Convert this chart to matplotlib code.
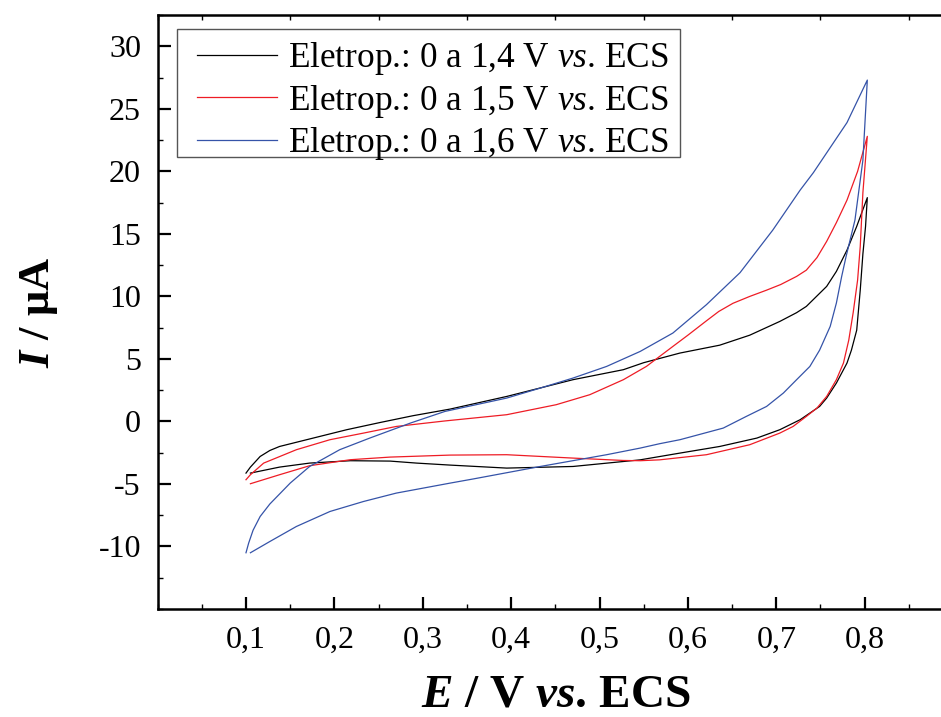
import matplotlib
matplotlib.use("Agg")
import matplotlib.pyplot as plt
from matplotlib.ticker import MultipleLocator, FixedLocator
from matplotlib.patches import Rectangle

plt.rcParams['font.family'] = 'Liberation Serif'
plt.rcParams['mathtext.fontset'] = 'custom'
plt.rcParams['mathtext.rm'] = 'Liberation Serif'
plt.rcParams['mathtext.it'] = 'Liberation Serif:italic'
plt.rcParams['mathtext.bf'] = 'Liberation Serif:bold'
plt.rcParams['mathtext.bfit'] = 'Liberation Serif:italic:bold'
plt.rcParams['axes.unicode_minus'] = False

# Eletropolimerizacao 0 a 1,4 V (ida e volta)
e14_x = [0.100, 0.105, 0.116, 0.127, 0.138, 0.176, 0.214, 0.252, 0.289, 0.331, 0.395, 0.470,
         0.527, 0.550, 0.591, 0.636, 0.670, 0.704, 0.723, 0.734, 0.757, 0.768, 0.780, 0.791,
         0.803,
         0.801, 0.798, 0.795, 0.791, 0.785, 0.780, 0.768, 0.757, 0.749, 0.738, 0.727, 0.704,
         0.678, 0.636, 0.591, 0.546, 0.470, 0.395, 0.331, 0.293, 0.263, 0.218, 0.172, 0.138,
         0.105]
e14_y = [-4.13, -3.65, -2.80, -2.32, -2.00, -1.33, -0.66, -0.08, 0.46, 0.99, 2.00, 3.34,
         4.14, 4.70, 5.47, 6.10, 6.90, 8.00, 8.70, 9.20, 10.80, 12.00, 13.70, 15.60,
         17.90,
         15.60, 13.40, 10.50, 7.30, 5.70, 4.67, 3.07, 1.87, 1.20, 0.67, 0.14, -0.66,
         -1.33, -2.00, -2.53, -3.07, -3.60, -3.73, -3.49, -3.33, -3.17, -3.14, -3.33, -3.65,
         -4.13]

# Eletropolimerizacao 0 a 1,5 V
e15_x = [0.100, 0.105, 0.120, 0.157, 0.195, 0.233, 0.270, 0.325, 0.395, 0.451, 0.489, 0.527,
         0.553, 0.583, 0.600, 0.621, 0.635, 0.651, 0.670, 0.689, 0.705, 0.723, 0.734, 0.746,
         0.757, 0.768, 0.780, 0.792, 0.803,
         0.798, 0.795, 0.792, 0.787, 0.782, 0.776, 0.768, 0.757, 0.746, 0.734, 0.719, 0.704,
         0.670, 0.621, 0.568, 0.546, 0.527, 0.470, 0.395, 0.331, 0.263, 0.218, 0.172, 0.138,
         0.105]
e15_y = [-4.66, -4.26, -3.33, -2.26, -1.46, -0.93, -0.40, 0.04, 0.54, 1.34, 2.14, 3.34,
         4.40, 6.00, 6.90, 8.05, 8.80, 9.45, 10.00, 10.50, 10.95, 11.60, 12.10, 13.10,
         14.40, 15.90, 17.70, 20.00, 22.80,
         18.30, 14.00, 11.30, 8.70, 6.50, 4.67, 3.34, 2.00, 1.07, 0.40, -0.40, -0.93,
         -1.86, -2.66, -3.07, -3.14, -3.12, -2.93, -2.66, -2.69, -2.85, -3.06, -3.54, -4.26,
         -4.98]

# Eletropolimerizacao 0 a 1,6 V
e16_x = [0.100, 0.103, 0.108, 0.116, 0.127, 0.150, 0.172, 0.206, 0.240, 0.286, 0.325, 0.395,
         0.433, 0.470, 0.508, 0.546, 0.583, 0.621, 0.659, 0.696, 0.727, 0.742, 0.780, 0.803,
         0.798, 0.789, 0.779, 0.774, 0.768, 0.761, 0.749, 0.738, 0.723, 0.708, 0.689, 0.666,
         0.640, 0.591, 0.568, 0.546, 0.508, 0.433, 0.357, 0.331, 0.270, 0.233, 0.195, 0.157,
         0.127, 0.105]
e16_y = [-10.50, -9.73, -8.70, -7.60, -6.60, -4.93, -3.60, -2.26, -1.33, -0.13, 0.80, 1.87,
         2.67, 3.47, 4.40, 5.60, 7.07, 9.34, 11.90, 15.30, 18.50, 19.90, 23.90, 27.30,
         20.90, 16.10, 13.20, 11.60, 9.47, 7.60, 5.70, 4.40, 3.34, 2.27, 1.20, 0.40,
         -0.53, -1.46, -1.78, -2.13, -2.66, -3.60, -4.60, -4.93, -5.73, -6.40, -7.20, -8.40,
         -9.60, -10.50]

labels = [r'Eletrop.: 0 a 1,4 V $\mathit{vs}$. ECS',
          r'Eletrop.: 0 a 1,5 V $\mathit{vs}$. ECS',
          r'Eletrop.: 0 a 1,6 V $\mathit{vs}$. ECS']
colors = ['black', '#ee1c25', '#3553a8']
x_ticks = [0.1, 0.2, 0.3, 0.4, 0.5, 0.6, 0.7, 0.8]
x_ticklabels = ['0,1', '0,2', '0,3', '0,4', '0,5', '0,6', '0,7', '0,8']
y_ticks = [-10, -5, 0, 5, 10, 15, 20, 25, 30]

W, H = 941, 717
fig = plt.figure(figsize=(W / 100, H / 100), dpi=100)
# the axes run a bit past the right border, like in the original
ax = fig.add_axes([0.1675, 0.1506, 1.0128 - 0.1675, 0.979 - 0.1506])

for xs, ys, lab, c in zip([e14_x, e15_x, e16_x], [e14_y, e15_y, e16_y], labels, colors):
    ax.plot(xs, ys, color=c, lw=0.9, label=lab)

ax.set_xlim(0, 0.9)
ax.set_ylim(-15, 32.5)
ax.xaxis.set_major_locator(FixedLocator(x_ticks))
ax.set_xticklabels(x_ticklabels)
ax.xaxis.set_minor_locator(MultipleLocator(0.05))
ax.yaxis.set_major_locator(FixedLocator(y_ticks))
ax.yaxis.set_minor_locator(MultipleLocator(2.5))
ax.tick_params(which='major', direction='in', length=9, width=1.6, labelsize=23,
               top=True, right=False)
ax.tick_params(which='minor', direction='in', length=3.5, width=1.0, top=True, right=False)
ax.tick_params(axis='x', which='major', top=False, pad=12)
ax.tick_params(axis='y', which='major', pad=12)
for s in ax.spines.values():
    s.set_linewidth(1.8)

ax.set_xlabel(r'$\mathbfit{E}$ / V $\mathbfit{vs}$. ECS', fontsize=34, fontweight='bold', labelpad=14)
ax.set_ylabel(r'$\mathbfit{I}$ / μA', fontsize=32, fontweight='bold', labelpad=28)

# legend box drawn by hand so the padding matches the original
ax.add_patch(Rectangle((177 / W, 1 - 157 / H), (680 - 177) / W, (157 - 29) / H,
                       transform=fig.transFigure, facecolor='white', clip_on=False,
                       edgecolor='#555555', lw=1.0, zorder=4))
leg = ax.legend(loc='upper left', bbox_to_anchor=(197 / W, 1 - 40 / H),
                bbox_transform=fig.transFigure, borderaxespad=0, borderpad=0,
                fontsize=25.4, handlelength=2.27, handletextpad=0.31,
                labelspacing=0.156, frameon=False)
leg.set_zorder(5)

fig.savefig('out.png', dpi=100)
